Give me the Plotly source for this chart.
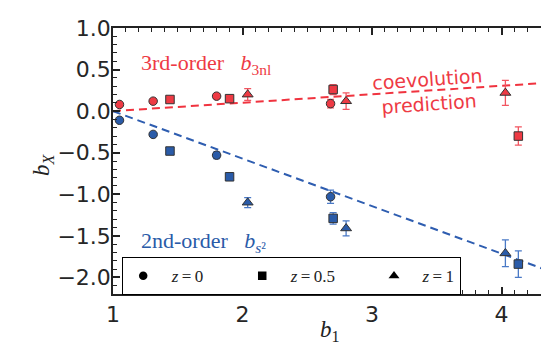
import plotly.graph_objects as go

# ---- data ----
b1_z0 = [1.05, 1.31, 1.80, 2.68]
b1_z05 = [1.44, 1.90, 2.70, 4.13]
b1_z1 = [2.04, 2.80, 4.03]

b3nl_z0 = [0.08, 0.12, 0.18, 0.09]
b3nl_z0_err = [0.02, 0.02, 0.03, 0.05]
b3nl_z05 = [0.14, 0.15, 0.26, -0.30]
b3nl_z05_err = [0.02, 0.03, 0.06, 0.11]
b3nl_z1 = [0.20, 0.12, 0.22]
b3nl_z1_err = [0.07, 0.10, 0.15]

bs2_z0 = [-0.11, -0.28, -0.53, -1.03]
bs2_z0_err = [0.02, 0.02, 0.04, 0.08]
bs2_z05 = [-0.48, -0.79, -1.29, -1.84]
bs2_z05_err = [0.02, 0.04, 0.07, 0.16]
bs2_z1 = [-1.10, -1.41, -1.71]
bs2_z1_err = [0.06, 0.09, 0.16]

# coevolution prediction lines (end points)
pred_b1 = [1.0, 4.31]
pred_b3nl = [0.0, 0.336]
pred_bs2 = [0.0, -1.891]

PAD = "&nbsp;" * 8
legend_labels = ["&nbsp;&nbsp;<i>z</i>\u2009=\u20090" + PAD,
                 "&nbsp;&nbsp;<i>z</i>\u2009=\u20090.5" + PAD,
                 "&nbsp;&nbsp;<i>z</i>\u2009=\u20091"]

RED = "#ee3a44"
RED_ERR = "#f25560"
BLUE = "#2a5ba8"
BLUE_ERR = "#4a79c6"
EDGE = "#333333"

W, H = 541, 346
PL, PR, PT, PB = 113, 0, 28, 52
PW, PH = W - PL - PR, H - PT - PB


def px2paper(px, py):
    return (px - PL) / PW, (H - PB - py) / PH


fig = go.Figure()

# prediction lines
fig.add_trace(go.Scatter(x=pred_b1, y=pred_b3nl, mode="lines",
                         line=dict(color="#f0333f", width=2, dash="8px,5px"),
                         showlegend=False, hoverinfo="skip"))
fig.add_trace(go.Scatter(x=pred_b1, y=pred_bs2, mode="lines",
                         line=dict(color="#2e5db0", width=2, dash="8px,5px"),
                         showlegend=False, hoverinfo="skip"))

symbols = ["circle", "square", "triangle-up"]
sizes = [8.5, 8.5, 9.5]
sets = [
    (b1_z0, b3nl_z0, b3nl_z0_err, bs2_z0, bs2_z0_err),
    (b1_z05, b3nl_z05, b3nl_z05_err, bs2_z05, bs2_z05_err),
    (b1_z1, b3nl_z1, b3nl_z1_err, bs2_z1, bs2_z1_err),
]
for (bx, r, re, b, be), sym, sz in zip(sets, symbols, sizes):
    fig.add_trace(go.Scatter(
        x=bx, y=r, mode="markers",
        marker=dict(symbol=sym, size=sz, color=RED, line=dict(color=EDGE, width=1)),
        error_y=dict(type="data", array=re, visible=True, color=RED_ERR, thickness=1.3, width=3.5),
        showlegend=False))
    fig.add_trace(go.Scatter(
        x=bx, y=b, mode="markers",
        marker=dict(symbol=sym, size=sz, color=BLUE, line=dict(color=EDGE, width=1)),
        error_y=dict(type="data", array=be, visible=True, color=BLUE_ERR, thickness=1.3, width=3.5),
        showlegend=False))

# legend-only entries (black markers)
for lab, sym, sz in zip(legend_labels, symbols, sizes):
    fig.add_trace(go.Scatter(x=[None], y=[None], mode="markers", name=lab,
                             marker=dict(symbol=sym, size=sz, color="black")))

AX = "#222222"
tickfont = dict(family="DejaVu Sans", size=22, color="#262626")
serif = "Liberation Serif"

fig.update_xaxes(range=[1.0, 4.305], showline=True, linecolor=AX, linewidth=1.6,
                 mirror="ticks", ticks="inside", ticklen=7, tickwidth=1.6, tickcolor=AX,
                 dtick=1, tick0=1, showgrid=False, zeroline=False, tickfont=tickfont,
                 minor=dict(dtick=0.1, ticks="inside", ticklen=4, tickwidth=1.2, tickcolor=AX))
fig.update_yaxes(range=[-2.2, 1.0], showline=True, linecolor=AX, linewidth=1.6,
                 ticks="inside", ticklen=7, tickwidth=1.6, tickcolor=AX,
                 dtick=0.5, tick0=0, tickformat=".1f", showgrid=False, zeroline=False,
                 tickfont=tickfont, ticklabelstandoff=-4,
                 minor=dict(dtick=0.1, ticks="inside", ticklen=4, tickwidth=1.2, tickcolor=AX))

# axis titles (pixel positions converted to paper coords)
tx, ty = px2paper(330, 331)
fig.add_annotation(x=tx, y=ty, xref="paper", yref="paper", xanchor="center", yanchor="middle",
                   text="<i>b</i><sub>1</sub>", showarrow=False,
                   font=dict(family=serif, size=23, color="#222"))
tx, ty = px2paper(43, 165)
fig.add_annotation(x=tx, y=ty, xref="paper", yref="paper", xanchor="center", yanchor="middle",
                   text="<i>b<sub>X</sub></i>", showarrow=False, textangle=-90,
                   font=dict(family=serif, size=23, color="#222"))

fig.add_annotation(x=1.2, y=0.567, xref="x", yref="y", xanchor="left", yanchor="middle",
                   text="3rd-order&nbsp;&nbsp;&nbsp;<i>b</i><sub>3nl</sub>", showarrow=False,
                   font=dict(family=serif, size=22, color=RED))
fig.add_annotation(x=1.2, y=-1.57, xref="x", yref="y", xanchor="left", yanchor="middle",
                   text="2nd-order&nbsp;&nbsp;&nbsp;<i>b</i><sub><i>s</i>²</sub>", showarrow=False,
                   font=dict(family=serif, size=22, color=BLUE))
fig.add_annotation(x=3.43, y=0.24, xref="x", yref="y", xanchor="center", yanchor="middle",
                   text="coevolution<br>prediction", showarrow=False, textangle=-4,
                   font=dict(family="DejaVu Sans", size=19, color=RED))

lx, ly = px2paper(122, 257)
fig.update_layout(
    width=W, height=H,
    margin=dict(l=PL, r=PR, t=PT, b=PB),
    plot_bgcolor="white", paper_bgcolor="white",
    legend=dict(orientation="h", x=lx, y=ly, xanchor="left", yanchor="top",
                bordercolor="black", borderwidth=1.2, bgcolor="white",
                font=dict(family=serif, size=17, color="#222")),
)

fig.write_html("out.html", config={"displayModeBar": False},
               post_script="document.body.style.margin='0';document.body.style.padding='0';")
